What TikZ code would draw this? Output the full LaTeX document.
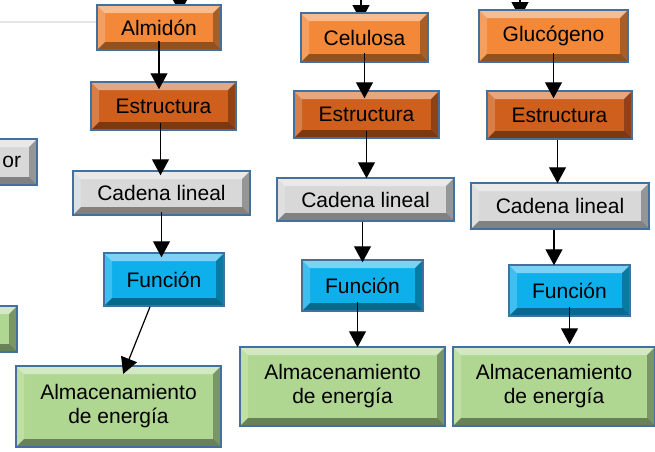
\documentclass[tikz,border=0pt]{standalone}
\usepackage{fontspec}
\setmainfont{Liberation Sans}
\usetikzlibrary{arrows.meta,calc}
\definecolor{borde}{HTML}{41719C}
\definecolor{naranja}{HTML}{F28838}
\definecolor{naranjaosc}{HTML}{CF5F1C}
\definecolor{gris}{HTML}{D8D8D8}
\definecolor{celeste}{HTML}{0EB0EC}
\definecolor{verde}{HTML}{B0D792}
\tikzset{>={Triangle[width=17pt,length=16pt]}}
\tikzset{bevel/.style={path picture={
        \coordinate (bvnw) at (path picture bounding box.north west);
        \coordinate (bvne) at (path picture bounding box.north east);
        \coordinate (bvsw) at (path picture bounding box.south west);
        \coordinate (bvse) at (path picture bounding box.south east);
        \fill[white,opacity=.45] (bvnw)--(bvne)--($(bvne)+(-8pt,-8pt)$)--($(bvnw)+(8pt,-8pt)$)--cycle;
        \fill[white,opacity=.2] (bvnw)--($(bvnw)+(8pt,-8pt)$)--($(bvsw)+(8pt,8pt)$)--(bvsw)--cycle;
        \fill[black,opacity=.3] (bvne)--(bvse)--($(bvse)+(-8pt,8pt)$)--($(bvne)+(-8pt,-8pt)$)--cycle;
        \fill[black,opacity=.4] (bvsw)--(bvse)--($(bvse)+(-8pt,8pt)$)--($(bvsw)+(8pt,8pt)$)--cycle;
      }}}

\begin{document}
\begin{tikzpicture}[x=1pt,y=-1pt,
    caja/.style={draw=borde,line width=1.5pt,fill=#1,inner sep=0pt,
      font=\fontsize{21}{24}\selectfont,align=center,bevel},
    flecha/.style={->,line width=1.2pt,shorten >=-5pt}]
        \useasboundingbox (0,0) rectangle (655,451);
        \clip (0,0) rectangle (655,451);
        \draw [gray!20,line width=2pt] (0,22)--(97,22);
        % arrows coming from above
        \coordinate (arribaA) at (180,-30);
        \coordinate (arribaB) at (361,-30);
        \coordinate (arribaC) at (520,-30);
        \draw [flecha,shorten >=-8pt] (arribaA)--(arribaA |- 0,5);
        \draw [flecha,shorten >=-8pt] (arribaB)--(arribaB |- 0,13);
        \draw [flecha,shorten >=-8pt] (arribaC)--(arribaC |- 0,10);
        % left column (cut)
        \node [caja=gris,minimum width=100,minimum height=46,text width=68,align=right] (lado) at (-13,162) {or};
        \node [caja=verde,minimum width=80,minimum height=46] (ladoverde) at (-23,329) {};
        % almidon
        \node [caja=naranja,minimum width=124,minimum height=45] (almidon) at (159,27.5) {Almidón};
        \node [caja=naranjaosc,minimum width=145,minimum height=48] (estrA) at (163.5,106) {Estructura};
        \node [caja=gris,minimum width=177,minimum height=44] (cadA) at (161.5,193) {Cadena lineal};
        \node [caja=celeste,minimum width=120,minimum height=53] (funA) at (164,279.5) {Función};
        \node [caja=verde,minimum width=205,minimum height=81] (almA) at (118.5,406.5) {Almacenamiento\\de energía};
        % celulosa
        \node [caja=naranja,minimum width=127,minimum height=49] (celulosa) at (364.5,37.5) {Celulosa};
        \node [caja=naranjaosc,minimum width=145,minimum height=47] (estrB) at (366.5,114.5) {Estructura};
        \node [caja=gris,minimum width=177,minimum height=43] (cadB) at (365.5,199.5) {Cadena lineal};
        \node [caja=celeste,minimum width=121,minimum height=51] (funB) at (362.5,285.5) {Función};
        \node [caja=verde,minimum width=205,minimum height=79] (almB) at (342.5,386.5) {Almacenamiento\\de energía};
        % glucogeno
        \node [caja=naranja,minimum width=149,minimum height=52] (glucogeno) at (553.5,36) {Glucógeno};
        \node [caja=naranjaosc,minimum width=145,minimum height=48] (estrC) at (559.5,115) {Estructura};
        \node [caja=gris,minimum width=178,minimum height=46] (cadC) at (560,206) {Cadena lineal};
        \node [caja=celeste,minimum width=121,minimum height=51] (funC) at (569.5,290.5) {Función};
        \node [caja=verde,minimum width=202,minimum height=79] (almC) at (554,386.5) {Almacenamiento\\de energía};
        % connectors
        \draw [flecha,shorten >=-8pt] ([yshift=10pt]almidon.south)--(almidon.south |- estrA.north);
        \draw [flecha] ([xshift=-3pt,yshift=8pt]estrA.south)--([xshift=-3pt]estrA.south |- cadA.north);
        \draw [flecha] ([yshift=4pt]cadA.south)--(cadA.south |- funA.north);
        \draw [flecha] ([xshift=-14pt]funA.south)--([xshift=6.5pt,yshift=-4pt]almA.north);
        \draw [flecha,shorten >=-8pt] ([yshift=10pt]celulosa.south)--(celulosa.south |- estrB.north);
        \draw [flecha,shorten >=-1pt] ([yshift=8pt]estrB.south)--(estrB.south |- cadB.north);
        \draw [flecha,shorten >=-3pt] ([xshift=-3pt]cadB.south)--([xshift=-3pt]cadB.south |- funB.north);
        \draw [flecha,shorten >=-1pt] ([xshift=-5pt,yshift=10pt]funB.south)--([xshift=-5pt]funB.south |- almB.north);
        \draw [flecha,shorten >=-8pt] ([yshift=10pt]glucogeno.south)--(glucogeno.south |- estrC.north);
        \draw [flecha,shorten >=-1pt] ([xshift=-2pt]estrC.south)--([xshift=-2pt]estrC.south |- cadC.north);
        \draw [flecha,shorten >=-1pt] ([xshift=-6pt]cadC.south)--([xshift=-6pt]cadC.south |- funC.north);
        \draw [flecha,shorten >=2pt] ([yshift=10pt]funC.south)--(funC.south |- almC.north);
\end{tikzpicture}
\end{document}
